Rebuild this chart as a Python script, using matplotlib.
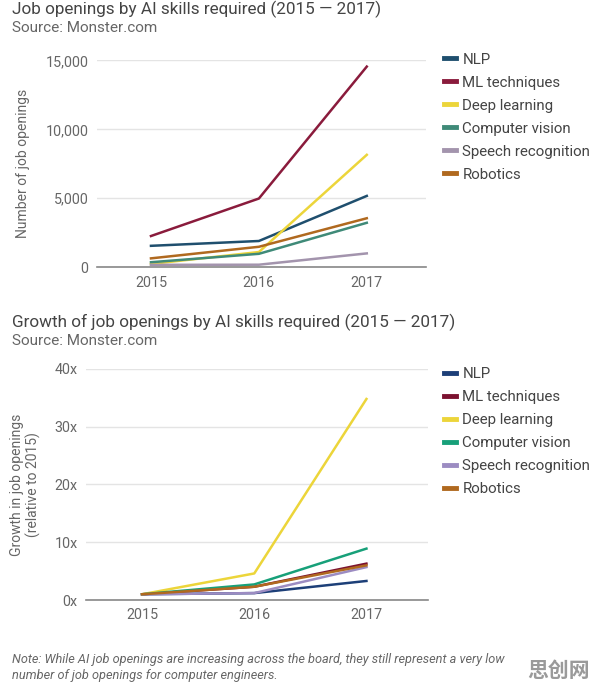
import matplotlib.pyplot as plt

plt.rcParams['font.family'] = ['Roboto', 'DejaVu Sans']

years = [2015, 2016, 2017]
skills = ["NLP", "ML techniques", "Deep learning", "Computer vision",
          "Speech recognition", "Robotics"]

# job openings
openings_nlp = [1550, 1900, 5170]
openings_ml = [2260, 4980, 14550]
openings_dl = [235, 1100, 8150]
openings_cv = [360, 970, 3220]
openings_speech = [170, 180, 1000]
openings_robotics = [640, 1480, 3550]

# growth relative to 2015
growth_nlp = [1, 1.2, 3.3]
growth_ml = [1, 2.3, 6.3]
growth_dl = [1, 4.6, 34.8]
growth_cv = [1, 2.7, 8.9]
growth_speech = [1, 1.2, 5.7]
growth_robotics = [1, 2.3, 6.0]

top_colors = ["#1f4f6e", "#8a1b3c", "#ecd53a", "#3f8a78", "#a394ad", "#b0691f"]
bottom_colors = ["#1d3f78", "#7c1230", "#ecd53a", "#17a079", "#9c8cc2", "#b0691f"]

txt_dark = "#444444"
txt_mid = "#666666"
grid_c = "#e4e4e4"

fig = plt.figure(figsize=(5.93, 6.94), dpi=100)


def style_axes(ax, yticks, ylabels):
    ax.set_xlim(2014.5, 2017.55)
    ax.set_xticks(years)
    ax.set_xticklabels([str(y) for y in years], color=txt_mid, fontsize=10.3)
    ax.set_yticks(yticks)
    ax.set_yticklabels(ylabels, color=txt_mid, fontsize=10.3)
    ax.tick_params(length=0, pad=6)
    for s in ["top", "right", "left"]:
        ax.spines[s].set_visible(False)
    ax.spines["bottom"].set_color("#888888")
    ax.spines["bottom"].set_linewidth(1.2)
    ax.grid(axis="y", color=grid_c, linewidth=1)
    ax.set_axisbelow(True)


def add_legend(lines, top):
    leg = fig.legend(lines, skills, loc="upper left", bbox_to_anchor=(0.748, top),
                     frameon=False, fontsize=10.8, handlelength=0.85, handletextpad=0.4,
                     labelspacing=0.6, borderpad=0, borderaxespad=0, labelcolor=txt_dark)
    for h in leg.legend_handles:
        h.set_linewidth(3.5)


# ---- top chart ----
ax1 = fig.add_axes([0.1636, 0.615, 0.555, 0.298])
top_series = [openings_nlp, openings_ml, openings_dl, openings_cv,
              openings_speech, openings_robotics]
lines1 = []
for vals, c, name in zip(top_series, top_colors, skills):
    l, = ax1.plot(years, vals, color=c, linewidth=1.8, label=name)
    lines1.append(l)
ax1.set_ylim(0, 15000)
style_axes(ax1, [0, 5000, 10000, 15000], ["0", "5,000", "10,000", "15,000"])
ax1.set_ylabel("Number of job openings", color=txt_mid, fontsize=10, labelpad=11)

fig.text(0.02, 0.986, "Job openings by AI skills required (2015 \u2014 2017)",
         fontsize=12.3, color=txt_dark, va="center")
fig.text(0.02, 0.960, "Source: Monster.com", fontsize=11, color=txt_mid, va="center")
add_legend(lines1, 0.924)

# ---- bottom chart ----
ax2 = fig.add_axes([0.145, 0.1354, 0.577, 0.333])
bottom_series = [growth_nlp, growth_ml, growth_dl, growth_cv,
                 growth_speech, growth_robotics]
lines2 = []
for vals, c, name in zip(bottom_series, bottom_colors, skills):
    l, = ax2.plot(years, vals, color=c, linewidth=1.8, label=name)
    lines2.append(l)
ax2.set_ylim(0, 40)
style_axes(ax2, [0, 10, 20, 30, 40], ["0x", "10x", "20x", "30x", "40x"])
ax2.set_ylabel("Growth in job openings\n(relative to 2015)", color=txt_mid,
               fontsize=10, labelpad=10, linespacing=1.1)

fig.text(0.02, 0.535, "Growth of job openings by AI skills required (2015 \u2014 2017)",
         fontsize=12.3, color=txt_dark, va="center")
fig.text(0.02, 0.508, "Source: Monster.com", fontsize=11, color=txt_mid, va="center")
add_legend(lines2, 0.471)

# ---- note and watermark ----
fig.text(0.02, 0.038, "Note: While AI job openings are increasing across the board, they still represent a very low\n"
         "number of job openings for computer engineers.",
         fontsize=9.2, color=txt_mid, style="italic", va="center", linespacing=1.25)
fig.text(0.995, 0.034, "思创网", fontsize=15, fontweight="bold", color="#9a9a9a",
         ha="right", va="center", family=["Noto Sans CJK SC", "DejaVu Sans"])

fig.savefig("out.png", dpi=100, facecolor="white")
